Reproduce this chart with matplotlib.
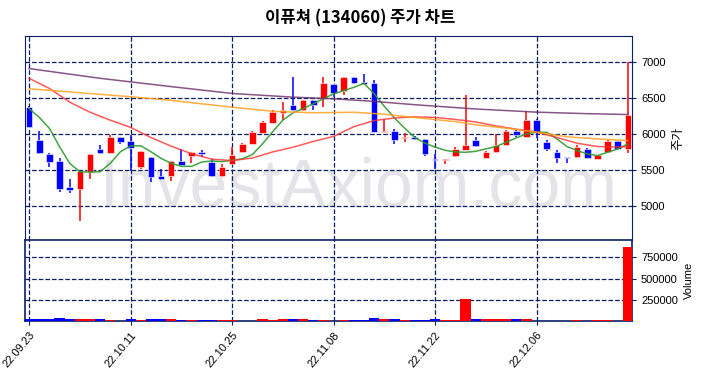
import numpy as np
import matplotlib
matplotlib.use('Agg')
import matplotlib.pyplot as plt

plt.rcParams['font.family'] = ['Liberation Sans', 'Noto Sans CJK KR', 'DejaVu Sans']

# Daily candles (22.09.23 ~ 22.12.19)
tick_labels = ['22.09.23', '22.10.11', '22.10.25', '22.11.08', '22.11.22', '22.12.06']
opens = [6370, 5920, 5720, 5620, 5260, 5235, 5465, 5785, 5736, 5950,
         5895, 5545, 5673, 5410, 5410, 5630, 5690, 5750, 5613, 5410,
         5586, 5745, 5863, 6018, 6154, 6295, 6395, 6327, 6464, 6500,
         6690, 6600, 6791, 6718, 6705, 6031, 6040, 5945, 5963, 5931,
         5650, 5636, 5690, 5781, 5909, 5667, 5745, 5847, 6046, 5963,
         6194, 5884, 5745, 5667, 5676, 5792, 5657, 5745, 5898, 5792]
highs = [6380, 6040, 5730, 5670, 5380, 5490, 5720, 5850, 5980, 5955,
         5980, 5765, 5680, 5510, 5625, 5790, 5755, 5780, 5645, 5576,
         5813, 5870, 6040, 6180, 6327, 6440, 6795, 6470, 6470, 6782,
         6695, 6795, 6795, 6828, 6745, 6204, 6063, 6009, 5975, 5935,
         5722, 5655, 5818, 6545, 5963, 5760, 6000, 6050, 6050, 6315,
         6200, 5917, 5778, 5667, 5852, 5800, 5712, 5910, 5905, 7000]
lows = [6090, 5720, 5545, 5190, 5180, 4790, 5380, 5720, 5730, 5865,
        5490, 5515, 5330, 5355, 5350, 5565, 5590, 5677, 5405, 5400,
        5580, 5740, 5860, 6010, 6145, 6190, 6320, 6320, 6327, 6370,
        6510, 6540, 6695, 6685, 6030, 6025, 5858, 5886, 5920, 5690,
        5508, 5577, 5685, 5775, 5820, 5660, 5740, 5845, 5954, 5960,
        5944, 5768, 5602, 5602, 5670, 5660, 5650, 5740, 5788, 5731]
closes = [6100, 5730, 5615, 5240, 5225, 5480, 5720, 5740, 5955, 5885,
          5810, 5760, 5400, 5380, 5623, 5570, 5750, 5722, 5410, 5540,
          5713, 5863, 6031, 6159, 6304, 6327, 6327, 6464, 6395, 6700,
          6568, 6791, 6700, 6691, 6031, 6045, 5909, 5954, 5927, 5722,
          5640, 5650, 5795, 5850, 5827, 5755, 5847, 6046, 5991, 6194,
          6023, 5792, 5667, 5662, 5815, 5667, 5708, 5907, 5792, 6268]
volumes = [18000, 18000, 18000, 40000, 18000, 18000, 28000, 18000, 7000, 5000,
           18000, 7000, 18000, 18000, 18000, 7000, 7000, 7000, 7000, 7000,
           7000, 5000, 5000, 18000, 7000, 18000, 18000, 18000, 7000, 7000,
           5000, 7000, 7000, 7000, 30000, 18000, 18000, 7000, 7000, 7000,
           20000, 7000, 7000, 254000, 18000, 18000, 18000, 18000, 18000, 18000,
           5000, 5000, 5000, 5000, 7000, 5000, 7000, 7000, 5000, 876000]

# moving averages
ma5 = [6350, 6229, 6077, 5822, 5592, 5475, 5470, 5475, 5592, 5753,
       5832, 5835, 5753, 5661, 5592, 5550, 5550, 5610, 5625, 5615,
       5635, 5654, 5713, 5863, 6031, 6190, 6291, 6350, 6418, 6486,
       6555, 6600, 6645, 6700, 6555, 6382, 6220, 6080, 5950, 5872,
       5817, 5772, 5750, 5745, 5758, 5792, 5824, 5884, 5944, 6000,
       6023, 6023, 5930, 5824, 5768, 5722, 5699, 5745, 5792, 5861]
ma20_x = [0, 2, 4, 6, 8, 10, 12, 14, 16, 18, 20, 22, 24, 26, 28, 30,
          32, 34, 36, 38, 40, 42, 44, 46, 48, 50, 52, 54, 56, 58, 59]
ma20 = [6770, 6630, 6440, 6300, 6190, 6090, 5950, 5830, 5725, 5650, 5630,
        5665, 5750, 5815, 5895, 5965, 6100, 6185, 6220, 6236, 6228,
        6200, 6165, 6110, 6065, 6025, 5950, 5870, 5825, 5818, 5824]
ma60_x = [0, 5, 10, 14, 20, 24, 28, 32, 35, 38, 42, 44, 47, 50, 53, 56, 59]
ma60 = [6626, 6570, 6515, 6464, 6370, 6313, 6292, 6300, 6272, 6227,
        6170, 6125, 6079, 6023, 5960, 5930, 5907]
ma120_x = [0, 7, 14, 20, 26, 30, 34, 38, 44, 50, 55, 59]
ma120 = [6905, 6770, 6655, 6560, 6509, 6486, 6450, 6404, 6345, 6301, 6280, 6268]

x = np.arange(len(closes))
o = np.array(opens)
c = np.array(closes)
up = c >= o
cols = np.where(up, '#ff0000', '#0000ff')
navy = '#0b1f66'

fig = plt.figure(figsize=(7.03, 3.78), dpi=100)
ax = fig.add_axes([0.0356, 0.365, 0.8634, 0.5397])
axv = fig.add_axes([0.0356, 0.1508, 0.8634, 0.2142], sharex=ax)

# watermark
ax.text(0.55, 0.255, 'InvestAxiom.com', transform=ax.transAxes, ha='center', va='center',
        fontsize=49, color='#e4e4e8', zorder=0, family=['Liberation Sans'])

# candles
ax.vlines(x, lows, highs, colors=cols, linewidth=1.1, zorder=3)
body = np.maximum(np.abs(c - o), 12)
ax.bar(x, body, bottom=np.minimum(o, c), width=0.65, color=cols,
       edgecolor='white', linewidth=0.4, zorder=4)

# moving averages
ax.plot(x, ma5, color='#2e9a2e', lw=1.1, alpha=0.9, zorder=5)
ax.plot(ma20_x, ma20, color='#ff3030', lw=1.1, alpha=0.8, zorder=5)
ax.plot(ma60_x, ma60, color='#ffa020', lw=1.1, alpha=0.85, zorder=5)
ax.plot(ma120_x, ma120, color='#6a2a6a', lw=1.1, alpha=0.8, zorder=5)

ax.set_xlim(-0.4, 59.4)
ax.set_ylim(4529, 7356)
ax.set_yticks([5000, 5500, 6000, 6500, 7000])
ax.yaxis.tick_right()
ax.yaxis.set_label_position('right')
ax.set_ylabel('주가', fontsize=9, family=['Noto Sans CJK KR'])
ax.tick_params(axis='x', labelbottom=False, length=0)
ax.tick_params(axis='y', labelsize=8, length=3, color=navy)
ax.set_xticks(np.arange(0, 60, 10))
ax.grid(True, linestyle='--', color=navy, linewidth=0.9)
ax.set_axisbelow(True)
for s in ax.spines.values():
    s.set_color(navy)
ax.set_title('이퓨쳐 (134060) 주가 차트', fontsize=12, pad=9, x=0.552,
             fontweight='bold', family=['Noto Sans CJK KR'])

# volume
axv.bar(x, volumes, width=1.0, color=cols, zorder=3)
axv.set_ylim(0, 956000)
axv.set_yticks([250000, 500000, 750000])
axv.yaxis.tick_right()
axv.yaxis.set_label_position('right')
axv.set_ylabel('Volume', fontsize=8)
axv.tick_params(axis='y', labelsize=8, length=3, color=navy)
axv.set_xticks(np.arange(0, 60, 10))
axv.set_xticklabels(tick_labels, rotation=50, fontsize=8, ha='right', rotation_mode='anchor')
axv.tick_params(axis='x', length=3, color=navy)
axv.grid(True, linestyle='--', color=navy, linewidth=0.9)
axv.set_axisbelow(True)
for s in axv.spines.values():
    s.set_color(navy)
    s.set_linewidth(1.2)

fig.savefig('out.png', dpi=100)
